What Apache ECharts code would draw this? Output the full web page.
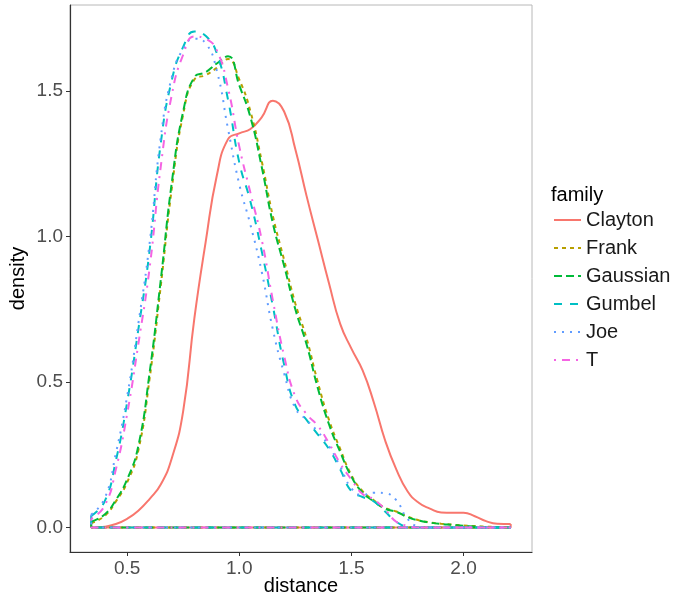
<!DOCTYPE html>
<html>
<head>
<meta charset="utf-8">
<script src="https://cdn.jsdelivr.net/npm/echarts@6/dist/echarts.min.js"></script>
<style>
  html, body { margin: 0; padding: 0; background: #fff; }
  #chart { width: 683px; height: 593px; }
</style>
</head>
<body>
<div id="chart"></div>
<script>
// x grid of the density estimates (distance)
const xs = [0.34, 0.40, 0.45, 0.50, 0.55, 0.60, 0.65, 0.70, 0.75, 0.80, 0.85, 0.90, 0.95,
  1.00, 1.05, 1.10, 1.15, 1.20, 1.25, 1.30, 1.35, 1.40, 1.45, 1.50, 1.55, 1.60, 1.65,
  1.70, 1.75, 1.80, 1.85, 1.90, 1.95, 2.00, 2.05, 2.10, 2.15, 2.21];

// density per copula family
const clayton = [0.000, 0.003, 0.012, 0.030, 0.058, 0.098, 0.148, 0.240, 0.400, 0.720, 0.980, 1.210, 1.335,
  1.355, 1.370, 1.410, 1.467, 1.430, 1.300, 1.140, 0.990, 0.840, 0.700, 0.615, 0.540, 0.430, 0.300,
  0.200, 0.125, 0.085, 0.065, 0.052, 0.051, 0.051, 0.039, 0.022, 0.013, 0.012];
const frank = [0.015, 0.040, 0.090, 0.155, 0.265, 0.510, 0.830, 1.170, 1.420, 1.540, 1.555, 1.580, 1.610,
  1.540, 1.430, 1.260, 1.070, 0.920, 0.770, 0.650, 0.500, 0.370, 0.270, 0.180, 0.125, 0.094, 0.068,
  0.055, 0.038, 0.025, 0.018, 0.013, 0.010, 0.007, 0.005, 0.003, 0.002, 0.001];
const gaussian = [0.020, 0.045, 0.095, 0.165, 0.280, 0.530, 0.850, 1.190, 1.430, 1.548, 1.565, 1.595, 1.620,
  1.520, 1.410, 1.240, 1.045, 0.900, 0.750, 0.630, 0.480, 0.355, 0.260, 0.175, 0.120, 0.090, 0.065,
  0.054, 0.036, 0.024, 0.017, 0.012, 0.009, 0.006, 0.004, 0.002, 0.001, 0.000];
const gumbel = [0.040, 0.090, 0.230, 0.430, 0.680, 0.950, 1.320, 1.540, 1.652, 1.705, 1.690, 1.630, 1.470,
  1.255, 1.120, 0.950, 0.760, 0.560, 0.420, 0.370, 0.320, 0.270, 0.200, 0.125, 0.105, 0.090, 0.055,
  0.020, 0.003, 0, 0, 0, 0, 0, 0, 0, 0, 0];
const joe = [0.045, 0.100, 0.255, 0.450, 0.700, 0.975, 1.340, 1.550, 1.645, 1.680, 1.665, 1.570, 1.370,
  1.180, 1.040, 0.880, 0.680, 0.530, 0.410, 0.370, 0.330, 0.280, 0.210, 0.135, 0.112, 0.120, 0.118,
  0.094, 0.030, 0.004, 0, 0, 0, 0, 0, 0, 0, 0];
const tcop = [0.030, 0.075, 0.200, 0.390, 0.630, 0.890, 1.240, 1.490, 1.625, 1.688, 1.680, 1.640, 1.510,
  1.310, 1.150, 0.990, 0.780, 0.590, 0.450, 0.390, 0.350, 0.290, 0.220, 0.165, 0.115, 0.097, 0.062,
  0.020, 0.006, 0, 0, 0, 0, 0, 0, 0, 0, 0];

const families = ['Clayton', 'Frank', 'Gaussian', 'Gumbel', 'Joe', 'T'];
const values = [clayton, frank, gaussian, gumbel, joe, tcop];
const xTicks = [0.5, 1.0, 1.5, 2.0];
const yTicks = [0.0, 0.5, 1.0, 1.5];

const colors = ['#F8766D', '#B79F00', '#00BA38', '#00BFC4', '#619CFF', '#F564E3'];
const dashes = ['solid', [4, 4], [8, 4], [8, 8], [2, 6], [2, 6, 8, 6]];
const font = 'Liberation Sans, Arial, sans-serif';

let series = [];
families.forEach(function (name, i) {
  let v = values[i];
  let style = { color: colors[i], width: 2, type: dashes[i] };
  // density curve
  series.push({
    name: name, type: 'line', smooth: 0.5, symbol: 'none',
    itemStyle: { color: colors[i] }, lineStyle: style,
    data: xs.map(function (x, k) { return [x, v[k]]; })
  });
  // outline closing down to zero (geom_density style)
  let n = xs.length - 1;
  series.push({
    name: name, type: 'line', smooth: false, symbol: 'none',
    itemStyle: { color: colors[i] }, lineStyle: style,
    data: [[xs[0], v[0]], [xs[0], 0], [xs[n], 0], [xs[n], v[n]]]
  });
});

let chart = echarts.init(document.getElementById('chart'));
chart.setOption({
  animation: false,
  backgroundColor: '#fff',
  textStyle: { fontFamily: font },
  grid: { left: 70, right: 151, top: 5, bottom: 41, containLabel: false, outerBoundsMode: 'none',
    show: true, borderColor: '#b8b8b8', borderWidth: 1 },
  graphic: [{
    type: 'text', left: 551, top: 185,
    style: { text: 'family', fontSize: 20, fontFamily: font, fill: '#000' }
  }],
  legend: {
    data: families, orient: 'vertical', left: 548, top: 205,
    itemWidth: 27, itemHeight: 14, itemGap: 8,
    itemStyle: { opacity: 0 },
    textStyle: { fontSize: 20, fontFamily: font, color: '#1a1a1a' }
  },
  xAxis: {
    type: 'value', min: 0.2455, max: 2.305,
    name: 'distance', nameLocation: 'middle', nameGap: 24, nameMoveOverlap: false,
    nameTextStyle: { fontSize: 20, color: '#000', fontFamily: font },
    splitLine: { show: false },
    axisLine: { show: true, onZero: false, lineStyle: { color: '#333', width: 1.2 } },
    axisTick: { show: true, length: 4, customValues: xTicks, lineStyle: { color: '#333' } },
    axisLabel: { customValues: xTicks, margin: 7, fontSize: 19, color: '#4d4d4d',
      formatter: function (v) { return v.toFixed(1); } }
  },
  yAxis: {
    type: 'value', min: -0.084, max: 1.796,
    name: 'density', nameLocation: 'middle', nameGap: 42, nameMoveOverlap: false,
    nameTextStyle: { fontSize: 20, color: '#000', fontFamily: font },
    splitLine: { show: false },
    axisLine: { show: true, onZero: false, lineStyle: { color: '#333', width: 1.2 } },
    axisTick: { show: true, length: 4, customValues: yTicks, lineStyle: { color: '#333' } },
    axisLabel: { customValues: yTicks, margin: 7, fontSize: 19, color: '#4d4d4d',
      formatter: function (v) { return v.toFixed(1); } }
  },
  series: series
});
</script>
</body>
</html>
